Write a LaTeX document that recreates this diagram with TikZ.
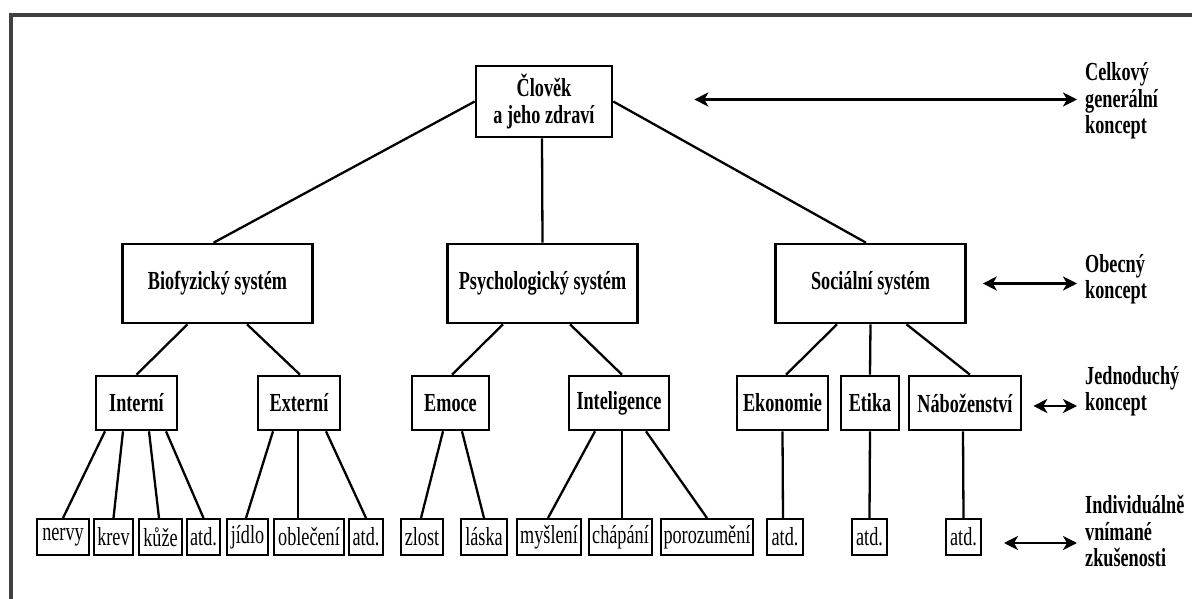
\documentclass[tikz,border=0pt]{standalone}
\usepackage{fontspec}
\setmainfont{Liberation Serif}[FakeStretch=0.7]
\usetikzlibrary{arrows.meta}

\begin{document}
\begin{tikzpicture}[x=1pt, y=-1pt,
    box/.style={
      draw, rectangle, line width=2.6pt, align=center,
      inner sep=2pt, font=\fontsize{26}{27}\selectfont\bfseries
    },
    sysbox/.style={box, minimum width=190pt, minimum height=79pt},
    subbox/.style={box, minimum height=54pt},
    leaf/.style={
      draw, rectangle, line width=2pt, inner xsep=1pt,
      minimum height=36pt, font=\fontsize{26}{27}\selectfont
    },
    lvl/.style={anchor=west, align=left, inner sep=2pt,
      font=\fontsize{26}{26.5}\selectfont\bfseries},
    link/.style={line width=2.3pt},
    arrow/.style={{Stealth[length=14pt,width=14pt,inset=4pt]}-{Stealth[length=14pt,width=14pt,inset=4pt]},
      line width=2.3pt, shorten >=6pt}
  ]
    \useasboundingbox (0,0) rectangle (1192,599);
    \draw[line width=3.5pt, black!75] (11,599) -- (11,15) -- (1192,15);

    % ── Top level ──
    \node[box, minimum width=136pt, minimum height=71pt] (clovek) at (544,101.5)
      {Člověk\\a jeho zdraví};

    % ── Systems ──
    \node[sysbox] (bio) at (217.5,283.5) {Biofyzický systém};
    \node[sysbox] (psy) at (542.5,283.5) {Psychologický systém};
    \node[sysbox] (soc) at (870.5,283.5) {Sociální systém};

    \draw[link] (clovek.west) -- ([xshift=-4pt]bio.north);
    \draw[link] ([xshift=-2pt]clovek.south) -- (psy.north);
    \draw[link] (clovek.east) -- ([xshift=-4.5pt]soc.north);

    % ── Simple concepts ──
    \node[subbox, minimum width=81pt] (intern) at (136.5,403) {Interní};
    \node[subbox, minimum width=82pt] (extern) at (299,403) {Externí};
    \node[subbox, minimum width=77pt] (emoce) at (450.5,403) {Emoce};
    \node[subbox, minimum width=100pt] (intel) at (619,403) {Inteligence};
    \node[subbox, minimum width=91pt] (ekon) at (782.5,403) {Ekonomie};
    \node[subbox, minimum width=58pt] (etika) at (870,403) {Etika};
    \node[subbox, minimum width=112pt] (nabo) at (965,403) {Náboženství};

    \draw[link] ([xshift=-30pt]bio.south) -- (intern.north);
    \draw[link] ([xshift=29.5pt]bio.south) -- ([xshift=1pt]extern.north);
    \draw[link] ([xshift=-39.5pt]psy.south) -- ([xshift=1.5pt]emoce.north);
    \draw[link] ([xshift=27.5pt]psy.south) -- ([xshift=3pt]intel.north);
    \draw[link] ([xshift=-33.5pt]soc.south) -- ([xshift=3.5pt]ekon.north);
    \draw[link] (soc.south) -- (etika.north);
    \draw[link] ([xshift=36pt]soc.south) -- ([xshift=5pt]nabo.north);

    % ── Individual experience ──
    \node[leaf, minimum width=52pt] (nervy) at (63,537) {nervy};
    \node[leaf, minimum width=39pt] (krev) at (113.5,537) {krev};
    \node[leaf, minimum width=43pt] (kuze) at (160.5,537) {kůže};
    \node[leaf, minimum width=33pt] (atdA) at (203.5,537) {atd.};
    \node[leaf, minimum width=41pt] (jidlo) at (247.5,537) {jídlo};
    \node[leaf, minimum width=70pt] (obleceni) at (309,537) {oblečení};
    \node[leaf, minimum width=34pt] (atdB) at (366,537) {atd.};
    \node[leaf, minimum width=42pt] (zlost) at (422,537) {zlost};
    \node[leaf, minimum width=46pt] (laska) at (484,537) {láska};
    \node[leaf, minimum width=64pt] (mysleni) at (549,537) {myšlení};
    \node[leaf, minimum width=63pt] (chapani) at (620.5,537) {chápání};
    \node[leaf, minimum width=92pt] (porozum) at (707,537) {porozumění};
    \node[leaf, minimum width=36pt] (atdC) at (785,537) {atd.};
    \node[leaf, minimum width=35pt] (atdD) at (869.5,537) {atd.};
    \node[leaf, minimum width=35pt] (atdE) at (963.5,537) {atd.};

    \draw[link] ([xshift=-31.5pt]intern.south) -- (nervy.north);
    \draw[link] ([xshift=-13.5pt]intern.south) -- (krev.north);
    \draw[link] ([xshift=12.5pt]intern.south) -- ([xshift=-1.5pt]kuze.north);
    \draw[link] ([xshift=29.5pt]intern.south) -- (atdA.north);
    \draw[link] ([xshift=-26pt]extern.south) -- ([xshift=-1.5pt]jidlo.north);
    \draw[link] ([xshift=-1pt]extern.south) -- ([xshift=-11pt]obleceni.north);
    \draw[link] ([xshift=27pt]extern.south) -- (atdB.north);
    \draw[link] ([xshift=-7.5pt]emoce.south) -- ([xshift=-1pt]zlost.north);
    \draw[link] ([xshift=11.5pt]emoce.south) -- (laska.north);
    \draw[link] ([xshift=-24pt]intel.south) -- ([xshift=-1pt]mysleni.north);
    \draw[link] ([xshift=3pt]intel.south) -- ([xshift=1.5pt]chapani.north);
    \draw[link] ([xshift=27pt]intel.south) -- (porozum.north);
    \draw[link] (ekon.south) -- ([xshift=-2pt]atdC.north);
    \draw[link] (etika.south) -- (atdD.north);
    \draw[link] ([xshift=-2pt]nabo.south) -- (atdE.north);

    % ── Levels of concept ──
    \node[lvl] (celk) at (1083,101) {Celkový\\generální\\koncept};
    \node[lvl] (obec) at (1083,279) {Obecný\\koncept};
    \node[lvl] (jedn) at (1083,391) {Jednoduchý\\koncept};
    \node[lvl] (indiv) at (1083,531) {Individuálně\\vnímané\\zkušenosti};

    \draw[arrow, shorten <=81pt] ([yshift=2pt]clovek.east) -- ([yshift=2pt]clovek.east -| celk.west);
    \draw[arrow, shorten <=16pt] (soc.east) -- (soc.east -| obec.west);
    \draw[arrow, shorten <=11pt] ([yshift=-3pt]nabo.east) -- ([yshift=-3pt]nabo.east -| jedn.west);
    \draw[arrow, shorten <=22pt] ([yshift=-6pt]atdE.east) -- ([yshift=-6pt]atdE.east -| indiv.west);
  \end{tikzpicture}
\end{document}
